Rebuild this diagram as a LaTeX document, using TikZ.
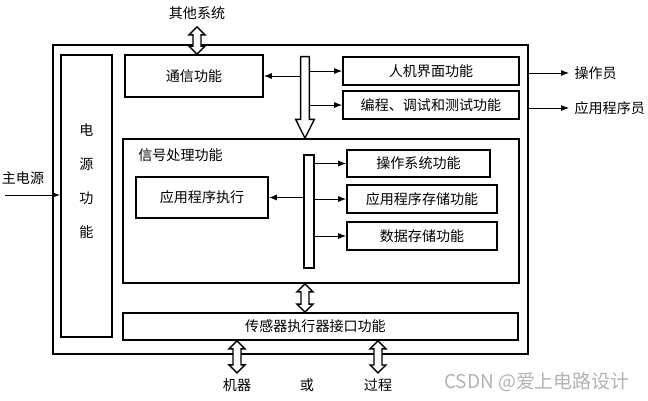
\documentclass[tikz,border=0pt]{standalone}
\usepackage{fontspec}
\setmainfont{Noto Sans CJK SC}
\usetikzlibrary{arrows.meta}

% hollow two-headed arrow from top point #1 down to bottom point #2
\newcommand{\dbarrow}[2]{%
  \draw[hollow] (#1) -- ++(8,8) -- ++(-4,0)
    -- ([xshift=0.08cm,yshift=0.16cm]#2) -- ++(4,0) -- (#2)
    -- ++(-8,-8) -- ++(4,0)
    -- ([xshift=-0.08cm,yshift=-0.16cm]#1) -- ++(-4,0) -- cycle;}

\begin{document}
\begin{tikzpicture}[
  x=0.02cm,
  y=-0.02cm,
  box/.style={draw, line width=1pt, inner sep=0pt,
    font=\fontsize{8}{9}\selectfont},
  lbl/.style={font=\fontsize{8}{9}\selectfont, inner sep=3pt},
  feed/.style={draw, line width=0.5pt,
    -{Latex[length=1.6mm,width=1.2mm]}},
  hollow/.style={draw, line width=0.8pt, fill=white}
]
  \useasboundingbox (0,0) rectangle (648,400);

  % Outer frame and power supply.
  \node[box, minimum width=9.5cm, minimum height=6.18cm] (frame)
    at (290.5,199.5) {};
  \node[box, minimum width=1.02cm, minimum height=5.64cm] (power)
    at (86.5,196) {};
  \node[lbl, align=center, font=\fontsize{8}{19.3}\selectfont] (powertxt)
    at (86.5,181) {电\\源\\功\\能};
  \node[lbl] (mainslbl) at (23,178) {主电源};
  \coordinate (mains) at (5,195);
  \draw[feed] (mains) -- (mains -| power.west);

  % Communication and the upper bus.
  \node[box, minimum width=2.76cm, minimum height=0.84cm] (comm)
    at (194,76) {通信功能};
  \node[lbl, inner sep=4pt] (others) at (197,13) {其他系统};
  \coordinate (oa) at (others.south);
  \coordinate (ob) at (others.south |- comm.north);
  \dbarrow{oa}{ob}

  \node[box, minimum width=3.52cm, minimum height=0.56cm] (hmi)
    at (431,71) {人机界面功能};
  \node[box, minimum width=3.52cm, minimum height=0.56cm] (prog)
    at (431,105) {编程、调试和测试功能};
  \node[inner sep=0pt, minimum width=0.16cm, minimum height=1.24cm] (bus)
    at (305,88) {};

  % Signal processing block.
  \node[box, minimum width=7.92cm, minimum height=2.88cm] (sig)
    at (321,211) {};
  \node[lbl, anchor=west, inner sep=0pt] (siglbl) at (138,155)
    {信号处理功能};
  \draw[hollow] (bus.north west) -- (bus.north east) -- (bus.south east)
    -- ++(5,0) -- (bus.south |- sig.north)
    -- ([xshift=-0.1cm]bus.south west) -- (bus.south west) -- cycle;
  \draw[feed] (bus.east |- hmi.west) -- (hmi.west);
  \draw[feed] (bus.east |- prog.west) -- (prog.west);
  \draw[feed] (bus.west |- comm.east) -- (comm.east);

  \node[box, minimum width=2.64cm, minimum height=0.82cm] (app)
    at (202,197.5) {应用程序执行};
  \node[box, minimum width=0.2cm, minimum height=2.26cm] (ibus)
    at (309,211.5) {};
  \node[box, minimum width=2.86cm, minimum height=0.54cm] (os)
    at (418.5,163.5) {操作系统功能};
  \node[box, minimum width=3.0cm, minimum height=0.56cm] (store)
    at (422,199) {应用程序存储功能};
  \node[box, minimum width=3.0cm, minimum height=0.56cm] (data)
    at (422,236) {数据存储功能};
  \draw[feed] (ibus.east |- os.west) -- (os.west);
  \draw[feed] (ibus.east |- store.west) -- (store.west);
  \draw[feed] (ibus.east |- data.west) -- (data.west);
  \draw[feed] (ibus.west |- app.east) -- (app.east);

  % Sensor / actuator interface.
  \node[box, minimum width=7.9cm, minimum height=0.54cm] (sensor)
    at (320.5,326.5) {\hspace*{-0.2cm}传感器执行器接口功能};
  \coordinate (sa) at (sig.south -| bus);
  \coordinate (sb) at (sensor.north -| bus);
  \dbarrow{sa}{sb}

  \node[lbl] (mach) at (237,385) {机器};
  \node[lbl] (either) at (307,385) {或};
  \node[lbl] (proc) at (378,385) {过程};
  \coordinate (ma) at (sensor.south -| mach);
  \coordinate (pa) at (sensor.south -| proc);
  \dbarrow{ma}{mach.north}
  \dbarrow{pa}{proc.north}

  % Users outside the frame.
  \node[lbl, anchor=west] (op) at (569,73) {操作员};
  \node[lbl, anchor=west] (dev) at (569,108) {应用程序员};
  \draw[feed] (frame.east |- op.west) -- (op.west);
  \draw[feed] (frame.east |- dev.west) -- (dev.west);

  \node[font=\fontsize{10.8}{12}\selectfont, text=black!30] (mark)
    at (537,382) {CSDN @爱上电路设计};
\end{tikzpicture}
\end{document}
